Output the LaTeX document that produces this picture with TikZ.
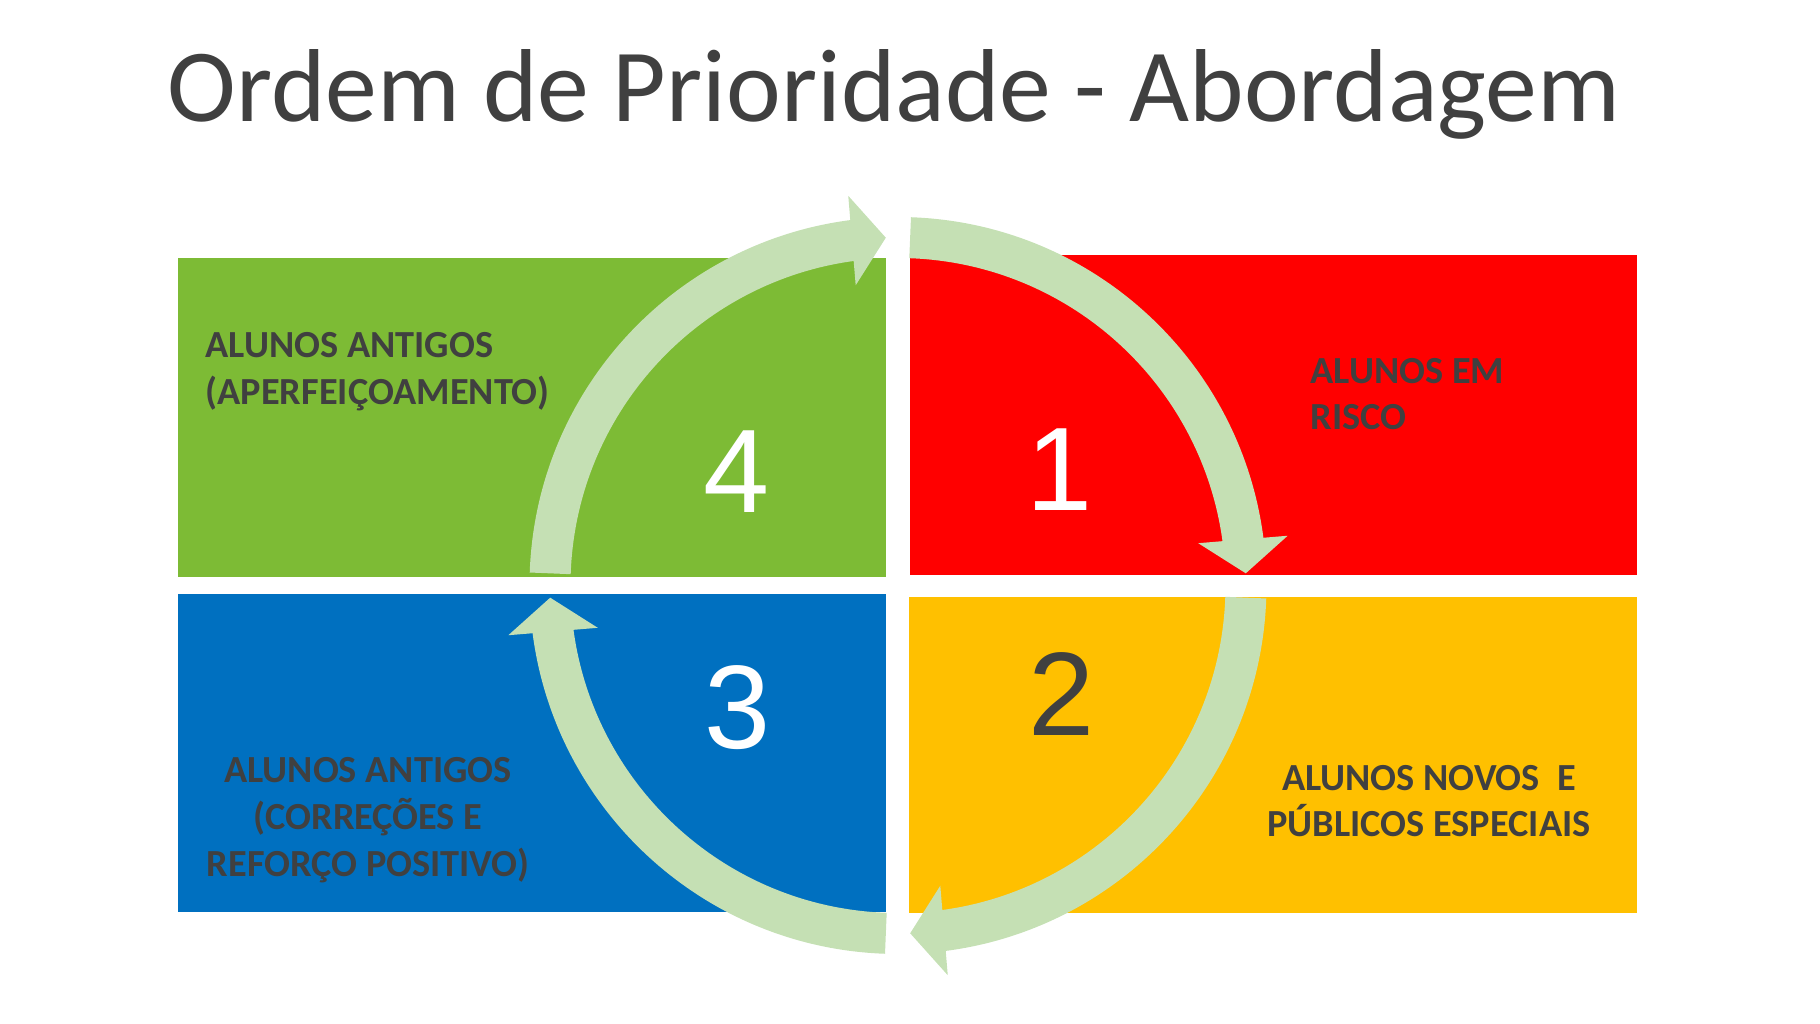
\documentclass[tikz,border=0pt]{standalone}
\usepackage{fontspec}
\setmainfont{Carlito}
\newfontfamily\digitfont{Liberation Sans}
\usetikzlibrary{arrows.meta,bending}
\definecolor{qgreen}{RGB}{125,187,53}
\definecolor{qred}{RGB}{255,0,0}
\definecolor{qblue}{RGB}{0,112,192}
\definecolor{qyellow}{RGB}{255,192,0}
\definecolor{ringc}{RGB}{197,224,180}
\definecolor{txt}{RGB}{64,64,64}

\begin{document}
\begin{tikzpicture}[>={Triangle[length=3.4mm,width=8.8mm]},
  rg/.style={draw=ringc,line width=4.1mm,->},
  lb/.style={font=\bfseries\fontsize{10.9}{13.3}\selectfont,text=txt,inner sep=0pt},
  nm/.style={font=\digitfont\fontsize{33.8}{40}\selectfont,inner sep=0pt}]
  \useasboundingbox (0,0) rectangle (18.2,10.24);
  \node[font=\fontsize{29.5}{34}\selectfont,text=txt,anchor=base] (title) at (8.94,9.02) {Ordem de Prioridade - Abordagem};
  % quadrants
  \fill[qgreen] (1.78,4.47) rectangle (8.86,7.66);
  \fill[qred] (9.10,4.49) rectangle (16.37,7.69);
  \fill[qblue] (1.78,1.12) rectangle (8.86,4.30);
  \fill[qyellow] (9.09,1.11) rectangle (16.37,4.27);
  % cycle
  \coordinate (c) at (8.98,4.385);
  \foreach \a in {90,0,-90,-180}
    \draw[rg] (c) ++(\a-2:3.48) arc[start angle=\a-2,end angle=\a-88,radius=3.48];
  % numbers
  \node[nm,text=white] (n4) at (7.37,5.52) {4};
  \node[nm,text=white] (n1) at (10.60,5.54) {1};
  \node[nm,text=white] (n3) at (7.38,3.16) {3};
  \node[nm,text=txt] (n2) at (10.62,3.30) {2};
  % labels
  \node[lb,anchor=west,align=left] (l4) at (2.05,6.52) {ALUNOS ANTIGOS\\(APERFEIÇOAMENTO)};
  \node[lb,anchor=west,align=left] (l1) at (13.10,6.30) {ALUNOS EM\\RISCO};
  \node[lb,align=center] (l3) at (3.68,2.04) {ALUNOS ANTIGOS\\(CORREÇÕES E\\REFORÇO POSITIVO)};
  \node[lb,align=center] (l2) at (14.29,2.23) {ALUNOS NOVOS\ \ E\\PÚBLICOS ESPECIAIS};
\end{tikzpicture}
\end{document}
